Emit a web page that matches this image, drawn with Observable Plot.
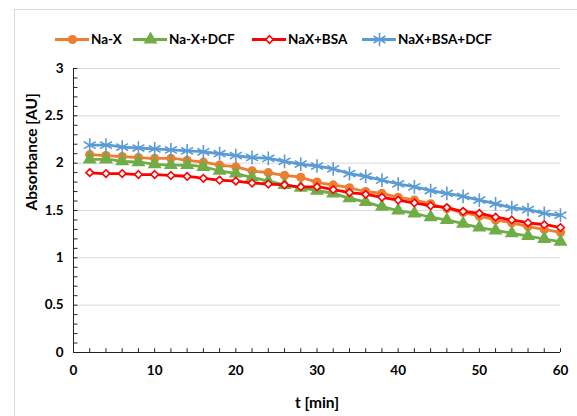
<!DOCTYPE html>
<html>
<head>
<meta charset="utf-8">
<script src="https://cdn.jsdelivr.net/npm/d3@7"></script>
<script src="https://cdn.jsdelivr.net/npm/@observablehq/plot@0.6"></script>
<style>
  html, body { margin: 0; padding: 0; background: #fff; }
  #wrap { position: relative; width: 577px; height: 416px; overflow: hidden; font-family: Lato, "Open Sans", sans-serif; }
  #frame { position: absolute; left: 14px; top: 9px; width: 700px; height: 500px; border-left: 1px solid #d9d9d9; border-top: 1px solid #d9d9d9; }
  #legend { position: absolute; top: 29px; left: 0; width: 577px; height: 20px; display: flex; justify-content: flex-start; font-weight: bold; font-size: 13.5px; color: #000; }
  .item { position: absolute; display: flex; align-items: center; height: 20px; }
  .item svg { margin-right: 2px; }
  #chart { position: absolute; left: 0; top: 0; }
</style>
</head>
<body>
<div id="wrap">
  <div id="frame"></div>
  <div id="chart"></div>
  <div id="legend"></div>
</div>
<script>
const times = [2,4,6,8,10,12,14,16,18,20,22,24,26,28,30,32,34,36,38,40,42,44,46,48,50,52,54,56,58,60];
const naX = [2.09,2.08,2.07,2.06,2.05,2.05,2.03,2.01,1.98,1.96,1.92,1.90,1.87,1.85,1.80,1.77,1.74,1.70,1.68,1.64,1.61,1.57,1.52,1.48,1.44,1.40,1.37,1.33,1.30,1.27];
const naXDCF = [2.04,2.04,2.02,2.01,1.99,1.98,1.98,1.96,1.92,1.89,1.85,1.81,1.77,1.74,1.71,1.68,1.63,1.59,1.54,1.50,1.47,1.43,1.40,1.36,1.32,1.29,1.26,1.23,1.20,1.17];
const naXBSA = [1.90,1.89,1.89,1.88,1.88,1.87,1.86,1.84,1.82,1.81,1.79,1.78,1.77,1.75,1.75,1.72,1.69,1.67,1.64,1.61,1.58,1.55,1.53,1.49,1.47,1.43,1.40,1.37,1.35,1.32];
const naXBSADCF = [2.19,2.19,2.17,2.16,2.15,2.14,2.13,2.12,2.10,2.08,2.06,2.05,2.02,1.99,1.97,1.94,1.89,1.86,1.82,1.78,1.75,1.71,1.68,1.65,1.61,1.57,1.53,1.51,1.47,1.45];
const seriesNames = ["Na-X","Na-X+DCF","NaX+BSA","NaX+BSA+DCF"];
const xTickLabels = [0,10,20,30,40,50,60];
const yTickLabels = [0,0.5,1,1.5,2,2.5,3];

const seriesStyle = [
  {name: seriesNames[0], values: naX, color: "#ED7D31", symbol: "circle", r: 4.6, fill: "#ED7D31"},
  {name: seriesNames[1], values: naXDCF, color: "#70AD47", symbol: "triangle", r: 5.2, fill: "#70AD47"},
  {name: seriesNames[2], values: naXBSA, color: "#FF0000", symbol: "diamond2", r: 3.4, fill: "#fff"},
  {name: seriesNames[3], values: naXBSADCF, color: "#5B9BD5", symbol: "asterisk", r: 6.5, fill: "none"}
];

const marks = [
  Plot.ruleY(yTickLabels.filter(d => d > 0), {stroke: "#d9d9d9", strokeWidth: 1}),
  Plot.ruleY(d3.range(0, 31).map(i => i / 10), {x1: 0, x2: 0.55, stroke: "#222", strokeWidth: 1}),
  Plot.ruleX(d3.range(0, 31).map(i => i * 2), {y1: 0, y2: 0.04, stroke: "#222", strokeWidth: 1}),
  Plot.ruleY([0], {stroke: "#222", strokeWidth: 1}),
  Plot.ruleX([0], {stroke: "#222", strokeWidth: 1}),
  Plot.axisX({ticks: xTickLabels, tickSize: 0, tickPadding: 13, fontSize: 13.5, fontWeight: "bold", label: null, tickFormat: d => String(d)}),
  Plot.axisY({ticks: yTickLabels, tickSize: 0, tickPadding: 10, fontSize: 13.5, fontWeight: "bold", label: null, tickFormat: d => String(d)}),
  Plot.text(["t [min]"], {frameAnchor: "bottom", dy: 51, fontSize: 15.5, fontWeight: "bold", lineAnchor: "middle"}),
  Plot.text(["Absorbance [AU]"], {frameAnchor: "left", dx: -41, rotate: -90, fontSize: 15.5, fontWeight: "bold", lineAnchor: "middle"})
];

for (const s of seriesStyle) {
  const data = times.map((t, i) => ({t, v: s.values[i]}));
  marks.push(Plot.line(data, {x: "t", y: "v", stroke: s.color, strokeWidth: 2.8, curve: "monotone-x"}));
  if (s.symbol === "asterisk") {
    marks.push(Plot.dot(data, {x: "t", y: "v", symbol: "asterisk", r: s.r, stroke: s.color, strokeWidth: 1.6}));
    marks.push(Plot.dot(data, {x: "t", y: "v", symbol: "times", r: 0.01, stroke: s.color}));
  } else if (s.symbol === "diamond2") {
    marks.push(Plot.dot(data, {x: "t", y: "v", symbol: "diamond2", r: s.r, stroke: s.color, fill: s.fill, strokeWidth: 1.6}));
  } else {
    marks.push(Plot.dot(data, {x: "t", y: "v", symbol: s.symbol, r: s.r, fill: s.fill, stroke: "none"}));
  }
}

const chart = Plot.plot({
  width: 577,
  height: 416,
  marginLeft: 73,
  marginRight: 17,
  marginTop: 68,
  marginBottom: 64,
  style: {fontFamily: "Lato, 'Open Sans', sans-serif", color: "#000", background: "transparent"},
  x: {domain: [0, 60]},
  y: {domain: [0, 3]},
  marks
});
document.getElementById("chart").appendChild(chart);

// legend
const legend = document.getElementById("legend");
const legendX = [55, 133, 252, 362];
seriesStyle.forEach((s, i) => {
  const item = document.createElement("div");
  item.className = "item";
  item.style.left = legendX[i] + "px";
  const sw = Plot.plot({
    width: 34, height: 20, margin: 0,
    x: {domain: [0, 2], axis: null}, y: {domain: [0, 1], axis: null},
    style: {background: "transparent"},
    marks: [
      Plot.ruleY([0.5], {stroke: s.color, strokeWidth: 2.8}),
      s.symbol === "asterisk"
        ? Plot.dot([1], {x: d => d, y: 0.5, symbol: "asterisk", r: s.r, stroke: s.color, strokeWidth: 1.6})
        : s.symbol === "diamond2"
          ? Plot.dot([1], {x: d => d, y: 0.5, symbol: "diamond2", r: s.r, stroke: s.color, fill: s.fill, strokeWidth: 1.6})
          : Plot.dot([1], {x: d => d, y: 0.5, symbol: s.symbol, r: s.r, fill: s.fill})
    ]
  });
  item.appendChild(sw);
  const label = document.createElement("span");
  label.textContent = s.name;
  item.appendChild(label);
  legend.appendChild(item);
});
</script>
</body>
</html>
